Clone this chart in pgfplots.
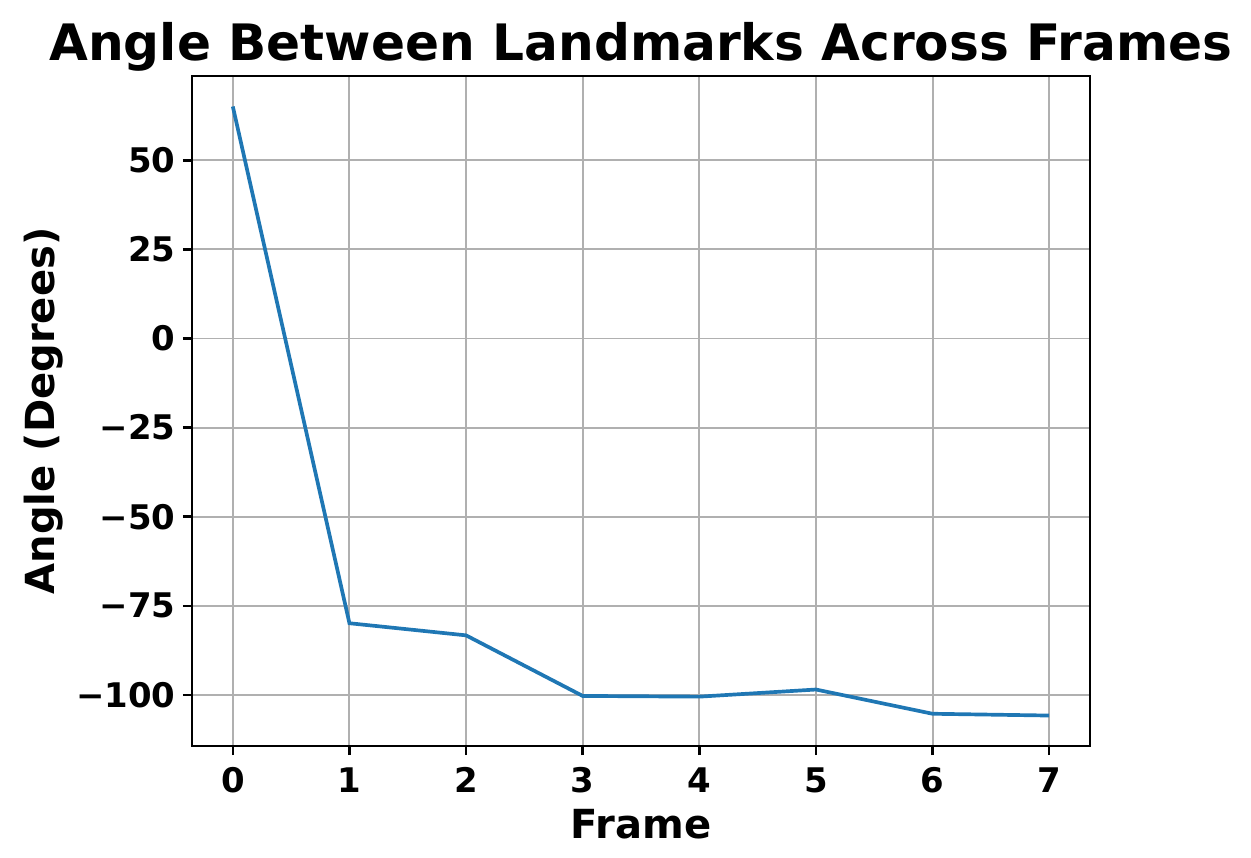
\documentclass[border=0pt]{standalone}
\usepackage{fontspec}
\setmainfont{DejaVu Sans}
\usepackage{pgfplots}
\pgfplotsset{compat=1.18}
\definecolor{mplblue}{HTML}{1F77B4}
\begin{document}
\begin{tikzpicture}
\begin{axis}[
    scale only axis,
    width=89.8mm,
    height=67mm,
    xmin=-0.35, xmax=7.35,
    ymin=-114.35, ymax=73.65,
    xtick={0,1,2,3,4,5,6,7},
    ytick={-100,-75,-50,-25,0,25,50},
    yticklabels={−100,−75,−50,−25,0,25,50},
    grid=major,
    grid style={color=black!31, line width=0.55pt},
    axis line style={line width=0.7pt},
    tick align=outside,
    tick pos=left,
    major tick length=0.9mm,
    tick style={black, line width=0.7pt},
    /pgf/number format/assume math mode=true,
    tick label style={font=\fontsize{9.65pt}{11pt}\selectfont\bfseries},
    yticklabel style={xshift=0.5mm},
    xlabel={Frame},
    ylabel={Angle (Degrees)},
    label style={font=\fontsize{11.4pt}{13pt}\selectfont\bfseries},
    title={Angle Between Landmarks Across Frames},
    title style={font=\fontsize{14.28pt}{16pt}\selectfont\bfseries, yshift=-2.9mm},
    xlabel style={yshift=0.8mm},
    ylabel style={yshift=-1.1mm},
]
\addplot[color=mplblue, line width=1.05pt] coordinates {
    (0,65.1) (1,-79.9) (2,-83.3) (3,-100.3) (4,-100.5) (5,-98.5) (6,-105.3) (7,-105.8)
};
\end{axis}
\pgfresetboundingbox
\path[use as bounding box]
    ([shift={(-19.2mm,-11.1mm)}]current axis.south west) rectangle
    ([shift={(16.1mm,7.6mm)}]current axis.north east);
\end{tikzpicture}
\end{document}
